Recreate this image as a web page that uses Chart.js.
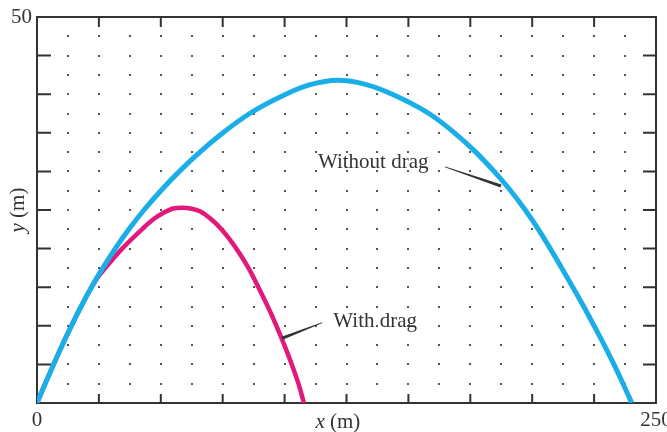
<!DOCTYPE html>
<html lang="en">
<head>
    <meta charset="UTF-8">
    <title>Projectile with and without drag</title>
    <style>
        body {
            margin: 0;
            background-color: #fff;
        }
        #chartCanvas {
            display: block;
        }
    </style>
</head>
<body>
    <canvas id="chartCanvas" width="667" height="432"></canvas>
    <script src="https://cdn.jsdelivr.net/npm/chart.js"></script>
    <script>
        // trajectory without drag (x in m, y in m)
        const noDragX = [0, 3.3, 6.7, 10.2, 13.9, 17.8, 22.0, 26.6, 31.6, 37.1, 43.2, 50.0, 57.5, 65.8, 75.1, 85.9, 100.5, 110, 121.5, 133, 143.5, 158.3, 168.6, 177.2, 184.6, 191.3, 197.2, 202.5, 207.3, 211.9, 216.4, 220.8, 225, 229.1, 233, 236.7, 240.2];
        const noDragY = [0, 2.5, 5, 7.5, 10, 12.5, 15, 17.5, 20, 22.5, 25, 27.5, 30, 32.5, 35, 37.5, 40, 41.2, 41.8, 41.25, 40, 37.5, 35, 32.5, 30, 27.5, 25, 22.5, 20, 17.5, 15, 12.5, 10, 7.5, 5, 2.5, 0];

        // trajectory with drag
        const dragX = [0, 3.3, 6.7, 10.2, 13.9, 17.8, 22.0, 24.6, 27.6, 34.4, 42.4, 47, 51.5, 55, 58.5, 62, 66, 70, 74.5, 80.5, 85.4, 89.4, 93.2, 96.7, 99.9, 102.9, 105.6, 107.8];
        const dragY = [0, 2.5, 5, 7.5, 10, 12.5, 15, 16.3, 17.5, 20, 22.5, 23.8, 24.7, 25.2, 25.3, 25.2, 24.8, 23.9, 22.5, 20, 17.5, 15, 12.5, 10, 7.5, 5, 2.5, 0];

        // tick marks and background dot grid
        const xTicks = [0, 25, 50, 75, 100, 125, 150, 175, 200, 225, 250];
        const yTicks = [0, 5, 10, 15, 20, 25, 30, 35, 40, 45, 50];
        const dotX = [12.5, 25, 37.5, 50, 62.5, 75, 87.5, 100, 112.5, 125, 137.5, 150, 162.5, 175, 187.5, 200, 212.5, 225, 237.5];
        const dotY = [2.5, 5, 7.5, 10, 12.5, 15, 17.5, 20, 22.5, 25, 27.5, 30, 32.5, 35, 37.5, 40, 42.5, 45, 47.5];

        const xLabels = [0, 250];
        const yLabels = [50];

        const notes = [
            { text: 'Without drag', at: [135.8, 31.1], from: [164.8, 30.6], to: [187.4, 28.1] },
            { text: 'With drag', at: [136.6, 10.6], from: [115.2, 10.4], to: [99.0, 8.4] }
        ];

        const FONT = '"Liberation Serif", "DejaVu Serif", serif';
        const INK = '#333';

        const toPoints = (xs, ys) => xs.map((x, i) => ({ x: x, y: ys[i] }));

        const framePlugin = {
            id: 'frame',
            beforeDatasetsDraw(chart) {
                const { ctx, chartArea: a, scales: { x, y } } = chart;
                ctx.save();
                ctx.fillStyle = '#555';
                dotX.forEach(vx => {
                    dotY.forEach(vy => {
                        ctx.fillRect(Math.round(x.getPixelForValue(vx)) - 1, Math.round(y.getPixelForValue(vy)) - 1, 2, 2);
                    });
                });
                ctx.strokeStyle = INK;
                ctx.lineWidth = 2;
                ctx.strokeRect(a.left, a.top, a.width, a.height);
                ctx.beginPath();
                xTicks.forEach(v => {
                    const px = x.getPixelForValue(v);
                    ctx.moveTo(px, a.bottom); ctx.lineTo(px, a.bottom - 9);
                    ctx.moveTo(px, a.top); ctx.lineTo(px, a.top + 10);
                });
                yTicks.forEach(v => {
                    const py = y.getPixelForValue(v);
                    ctx.moveTo(a.left, py); ctx.lineTo(a.left + 14, py);
                    ctx.moveTo(a.right, py); ctx.lineTo(a.right - 13, py);
                });
                ctx.stroke();
                ctx.restore();
            },
            afterDatasetsDraw(chart) {
                const { ctx, chartArea: a, scales: { x, y } } = chart;
                ctx.save();
                ctx.fillStyle = INK;
                ctx.font = '21px ' + FONT;

                // tick labels
                ctx.textAlign = 'center';
                ctx.textBaseline = 'top';
                xLabels.forEach(v => ctx.fillText(String(v), x.getPixelForValue(v), a.bottom + 7));
                ctx.textAlign = 'right';
                ctx.textBaseline = 'middle';
                yLabels.forEach(v => ctx.fillText(String(v), a.left - 5, y.getPixelForValue(v)));

                // axis titles
                drawTitle(ctx, 'x', ' (m)', x.getPixelForValue(121.5), a.bottom + 19, 0);
                drawTitle(ctx, 'y', ' (m)', 18, (a.top + a.bottom) / 2, -Math.PI / 2);

                // curve notes with leader lines
                notes.forEach(n => {
                    ctx.textAlign = 'center';
                    ctx.textBaseline = 'middle';
                    ctx.fillText(n.text, x.getPixelForValue(n.at[0]), y.getPixelForValue(n.at[1]));
                    const x0 = x.getPixelForValue(n.from[0]), y0 = y.getPixelForValue(n.from[1]);
                    const x1 = x.getPixelForValue(n.to[0]), y1 = y.getPixelForValue(n.to[1]);
                    const len = Math.hypot(x1 - x0, y1 - y0);
                    const nx = -(y1 - y0) / len, ny = (x1 - x0) / len;
                    ctx.beginPath();
                    ctx.moveTo(x0 + nx * 0.4, y0 + ny * 0.4);
                    ctx.lineTo(x1 + nx * 1.6, y1 + ny * 1.6);
                    ctx.lineTo(x1 - nx * 1.6, y1 - ny * 1.6);
                    ctx.lineTo(x0 - nx * 0.4, y0 - ny * 0.4);
                    ctx.closePath();
                    ctx.fill();
                });
                ctx.restore();
            }
        };

        function drawTitle(ctx, italicPart, rest, cx, cy, angle) {
            ctx.save();
            ctx.translate(cx, cy);
            ctx.rotate(angle);
            ctx.textBaseline = 'middle';
            ctx.textAlign = 'left';
            ctx.font = 'italic 21px ' + FONT;
            const w1 = ctx.measureText(italicPart).width;
            ctx.font = '21px ' + FONT;
            const w2 = ctx.measureText(rest).width;
            const start = -(w1 + w2) / 2;
            ctx.font = 'italic 21px ' + FONT;
            ctx.fillText(italicPart, start, 0);
            ctx.font = '21px ' + FONT;
            ctx.fillText(rest, start + w1, 0);
            ctx.restore();
        }

        const ctx = document.getElementById('chartCanvas').getContext('2d');
        const chart = new Chart(ctx, {
            type: 'scatter',
            data: {
                datasets: [
                    {
                        label: 'Without drag',
                        data: toPoints(noDragX, noDragY),
                        showLine: true,
                        borderColor: '#1aaee8',
                        borderWidth: 5,
                        pointRadius: 0,
                        cubicInterpolationMode: 'monotone'
                    },
                    {
                        label: 'With drag',
                        data: toPoints(dragX, dragY),
                        showLine: true,
                        borderColor: '#e2187c',
                        borderWidth: 4.5,
                        pointRadius: 0,
                        cubicInterpolationMode: 'monotone'
                    }
                ]
            },
            options: {
                responsive: false,
                animation: false,
                layout: { padding: { left: 37, right: 11, top: 17, bottom: 29 } },
                plugins: {
                    legend: { display: false },
                    tooltip: { enabled: false }
                },
                scales: {
                    x: { type: 'linear', min: 0, max: 250, display: false },
                    y: { type: 'linear', min: 0, max: 50, display: false }
                }
            },
            plugins: [framePlugin]
        });
    </script>
</body>
</html>
